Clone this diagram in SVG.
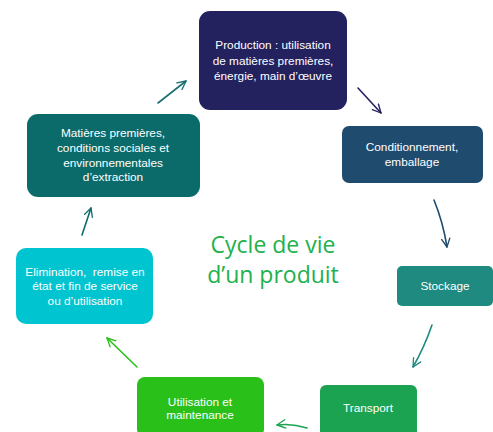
<svg xmlns="http://www.w3.org/2000/svg" width="493" height="432" viewBox="0 0 493 432">
  <style>
    .lbl { font-family: "Liberation Sans", Arial, sans-serif; font-size: 11.8px; fill: #ffffff; text-anchor: middle; white-space: pre; }
    .title { font-family: "Open Sans", "Liberation Sans", sans-serif; font-size: 23px; fill: #22b14c; text-anchor: middle; }
    .arr { fill: none; stroke-width: 1.6; stroke-linecap: round; }
  </style>
  <defs>
    <marker id="head" viewBox="0 0 12 12" refX="11" refY="6" markerWidth="10" markerHeight="10" markerUnits="userSpaceOnUse" orient="auto">
      <polyline points="1,1 11,6 1,11" fill="none" stroke="context-stroke" stroke-width="1.6" stroke-linecap="round" stroke-linejoin="round"/>
    </marker>
  </defs>
  <rect width="493" height="432" fill="#ffffff"/>

  <g id="production">
    <rect x="199" y="11" width="148" height="99" rx="11" fill="#24215f"/>
    <text class="lbl" x="273" y="49">Production : utilisation</text>
    <text class="lbl" x="273" y="65">de matières premières,</text>
    <text class="lbl" x="273" y="80">énergie, main d’œuvre</text>
  </g>
  <g id="conditionnement">
    <rect x="342" y="126" width="141" height="57" rx="7" fill="#1f4b6e"/>
    <text class="lbl" x="412" y="151">Conditionnement,</text>
    <text class="lbl" x="412" y="166">emballage</text>
  </g>
  <g id="stockage">
    <rect x="397" y="266" width="96" height="40" rx="5" fill="#1e8a80"/>
    <text class="lbl" x="445" y="290">Stockage</text>
  </g>
  <g id="transport">
    <rect x="320" y="385" width="97" height="52" rx="6" fill="#1ba352"/>
    <text class="lbl" x="368" y="412">Transport</text>
  </g>
  <g id="utilisation">
    <rect x="137" y="377" width="127" height="60" rx="8" fill="#2ac01a"/>
    <text class="lbl" x="200" y="406">Utilisation et</text>
    <text class="lbl" x="200" y="419">maintenance</text>
  </g>
  <g id="elimination">
    <rect x="16" y="248" width="137" height="76" rx="10" fill="#00c4d0"/>
    <text class="lbl" x="85" y="276">Elimination,  remise en</text>
    <text class="lbl" x="85" y="290">état et fin de service</text>
    <text class="lbl" x="85" y="305">ou d’utilisation</text>
  </g>
  <g id="matieres">
    <rect x="27" y="114" width="173" height="83" rx="11" fill="#0b6b6b"/>
    <text class="lbl" x="113" y="137">Matières premières,</text>
    <text class="lbl" x="113" y="152">conditions sociales et</text>
    <text class="lbl" x="113" y="167">environnementales</text>
    <text class="lbl" x="113" y="181">d’extraction</text>
  </g>

  <g id="title">
    <text class="title" x="273" y="253">Cycle de vie</text>
    <text class="title" x="273" y="283">d’un produit</text>
  </g>

  <g id="connectors">
    <path class="arr" d="M158,103 L186,81" stroke="#1a7070" marker-end="url(#head)"/>
    <path class="arr" d="M358,88 L381,113" stroke="#24215f" marker-end="url(#head)"/>
    <path class="arr" d="M434,200 Q443,222 447,247" stroke="#1f4b6e" marker-end="url(#head)"/>
    <path class="arr" d="M432,325 Q424,348 413,367" stroke="#1e8a80" marker-end="url(#head)"/>
    <path class="arr" d="M307,428 Q292,423 277,425" stroke="#1ba352" marker-end="url(#head)"/>
    <path class="arr" d="M137,367 L107,338" stroke="#2ac01a" marker-end="url(#head)"/>
    <path class="arr" d="M82,235 L91,208" stroke="#0b6b6b" marker-end="url(#head)"/>
  </g>
</svg>
